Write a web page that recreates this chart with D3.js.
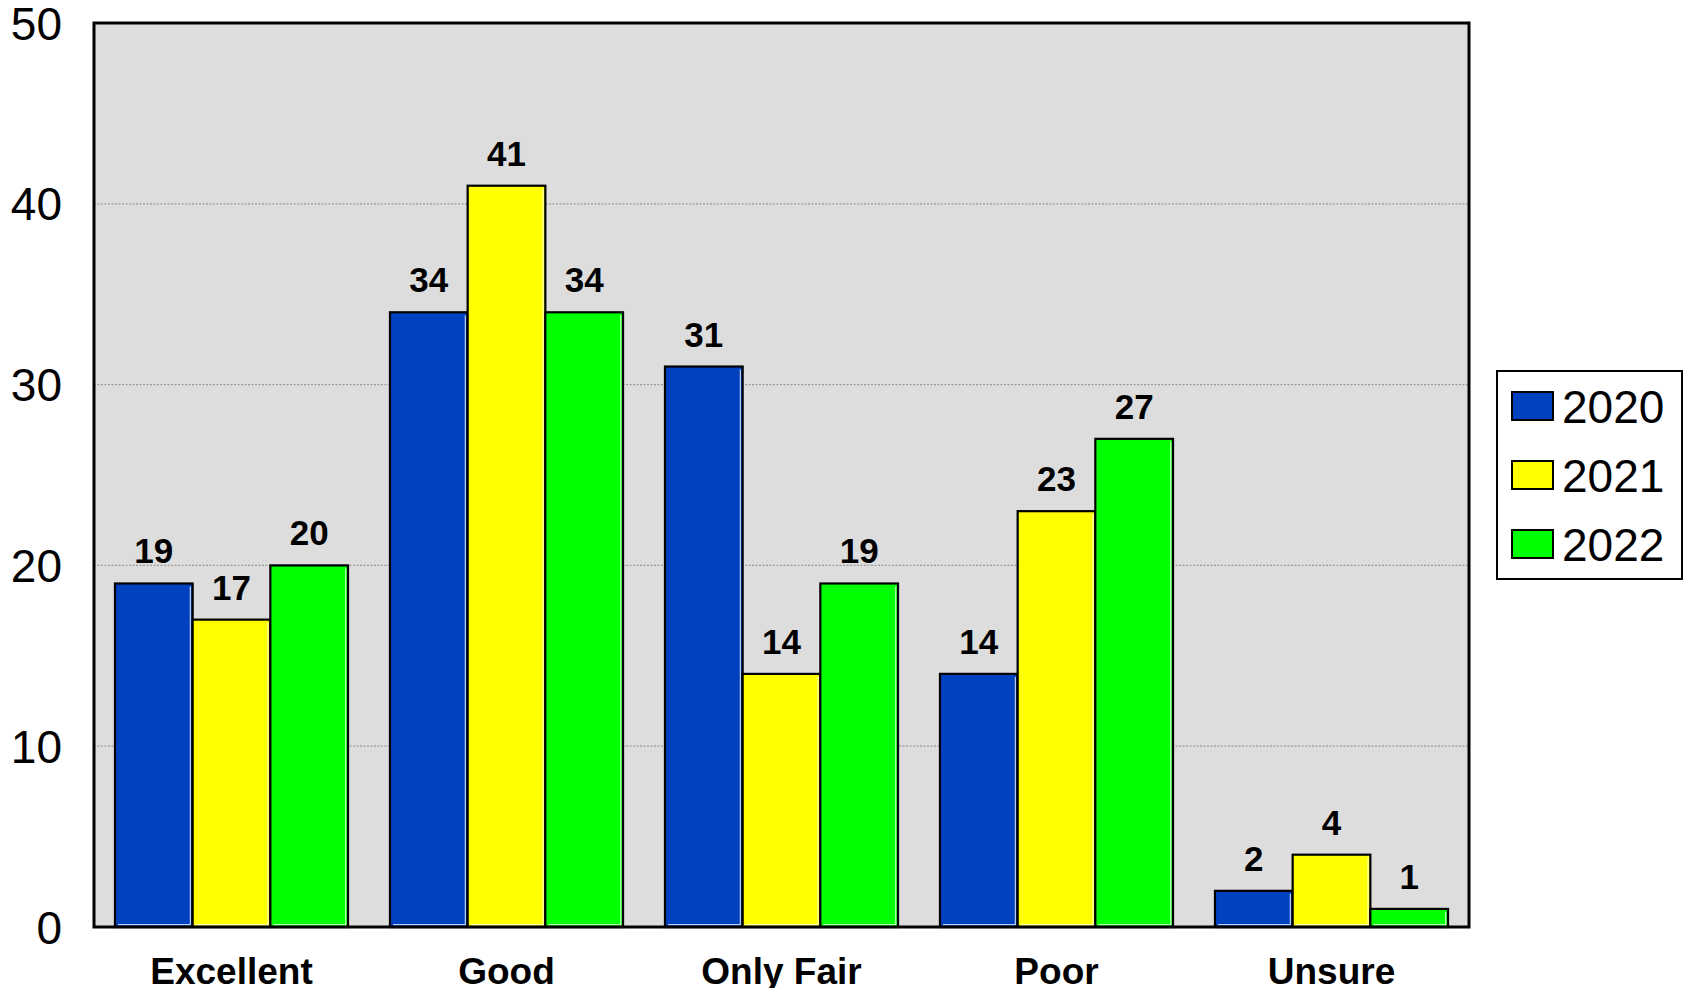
<!DOCTYPE html>
<html>
<head>
<meta charset="utf-8">
<script src="https://cdn.jsdelivr.net/npm/d3@7"></script>
<style>
  html, body { margin: 0; padding: 0; background: #ffffff; }
  svg { display: block; font-family: "Liberation Sans", Arial, sans-serif; }
</style>
</head>
<body>
<svg id="chart" width="1690" height="988"></svg>
<script>
// Survey ratings by year
const categories = ["Excellent", "Good", "Only Fair", "Poor", "Unsure"];
const years = ["2020", "2021", "2022"];
const values2020 = [19, 34, 31, 14, 2];
const values2021 = [17, 41, 14, 23, 4];
const values2022 = [20, 34, 19, 27, 1];
const yTicks = [0, 10, 20, 30, 40, 50];
const colors = ["#0041C0", "#FFFF00", "#00FF00"];

const seriesValues = [values2020, values2021, values2022];

const svg = d3.select("#chart");
const plot = { left: 94, right: 1469, top: 23, bottom: 927 };

const x0 = d3.scaleBand().domain(categories).range([plot.left, plot.right]).padding(0);
const x1 = d3.scaleBand().domain(years).range([0, x0.bandwidth()])
  .paddingInner(0).paddingOuter(0.27);
const y = d3.scaleLinear().domain([0, 50]).range([plot.bottom, plot.top]);

// plot background
svg.append("rect")
  .attr("x", plot.left).attr("y", plot.top)
  .attr("width", plot.right - plot.left).attr("height", plot.bottom - plot.top)
  .attr("fill", "#DDDDDD");

// dashed gridlines
svg.append("g").selectAll("line")
  .data(yTicks.filter(t => t > 0 && t < 50))
  .join("line")
  .attr("x1", plot.left).attr("x2", plot.right)
  .attr("y1", d => y(d)).attr("y2", d => y(d))
  .attr("stroke", "#9a9a9a").attr("stroke-width", 1.2)
  .attr("stroke-dasharray", "2,1.5");

// bars
const rows = [];
categories.forEach((c, i) => {
  years.forEach((yr, j) => {
    rows.push({ cat: c, year: yr, value: seriesValues[j][i], color: colors[j] });
  });
});

const barG = svg.append("g");
const bars = barG.selectAll("g.bar").data(rows).join("g").attr("class", "bar");

bars.append("rect")
  .attr("x", d => x0(d.cat) + x1(d.year))
  .attr("y", d => y(d.value))
  .attr("width", x1.bandwidth())
  .attr("height", d => y(0) - y(d.value))
  .attr("fill", d => d.color)
  .attr("stroke", "#000").attr("stroke-width", 2.2);

// light inner edge along right and bottom of each bar
bars.append("path")
  .attr("d", d => {
    const bx = x0(d.cat) + x1(d.year), bw = x1.bandwidth();
    const top = y(d.value), bot = y(0);
    return `M${bx + bw - 2.3},${top + 3} L${bx + bw - 2.3},${bot - 2.3} L${bx + 3},${bot - 2.3}`;
  })
  .attr("fill", "none").attr("stroke", "#ffffff").attr("stroke-opacity", 0.75)
  .attr("stroke-width", 1.2);

// value labels
bars.append("text")
  .attr("x", d => x0(d.cat) + x1(d.year) + x1.bandwidth() / 2)
  .attr("y", d => y(d.value) - 20)
  .attr("text-anchor", "middle")
  .attr("font-size", 35).attr("font-weight", "bold")
  .attr("fill", "#000")
  .text(d => d.value);

// plot border
svg.append("rect")
  .attr("x", plot.left).attr("y", plot.top)
  .attr("width", plot.right - plot.left).attr("height", plot.bottom - plot.top)
  .attr("fill", "none").attr("stroke", "#000").attr("stroke-width", 3);

// y axis
const yAxis = svg.append("g")
  .attr("transform", `translate(${plot.left},0)`)
  .call(d3.axisLeft(y).tickValues(yTicks).tickSize(0).tickPadding(32).tickFormat(d3.format("d")));
yAxis.select(".domain").remove();
yAxis.selectAll("text")
  .attr("font-family", "'Liberation Sans', Arial, sans-serif")
  .attr("font-size", 46).attr("fill", "#000").attr("dy", "0.35em");

// category labels
svg.append("g").selectAll("text")
  .data(categories).join("text")
  .attr("x", d => x0(d) + x0.bandwidth() / 2)
  .attr("y", 984)
  .attr("text-anchor", "middle")
  .attr("font-size", 37).attr("font-weight", "bold")
  .attr("fill", "#000")
  .text(d => d);

// legend
const legend = svg.append("g");
legend.append("rect")
  .attr("x", 1497).attr("y", 371).attr("width", 185).attr("height", 208)
  .attr("fill", "#fff").attr("stroke", "#000").attr("stroke-width", 2);
const items = legend.selectAll("g.item").data(years).join("g").attr("class", "item")
  .attr("transform", (d, i) => `translate(0, ${406 + i * 69})`);
items.append("rect")
  .attr("x", 1512).attr("y", -14).attr("width", 41).attr("height", 28)
  .attr("fill", (d, i) => colors[i]).attr("stroke", "#000").attr("stroke-width", 2);
items.append("text")
  .attr("x", 1562).attr("y", 0).attr("dy", "0.36em")
  .attr("font-size", 46).attr("fill", "#000")
  .text(d => d);
</script>
</body>
</html>
